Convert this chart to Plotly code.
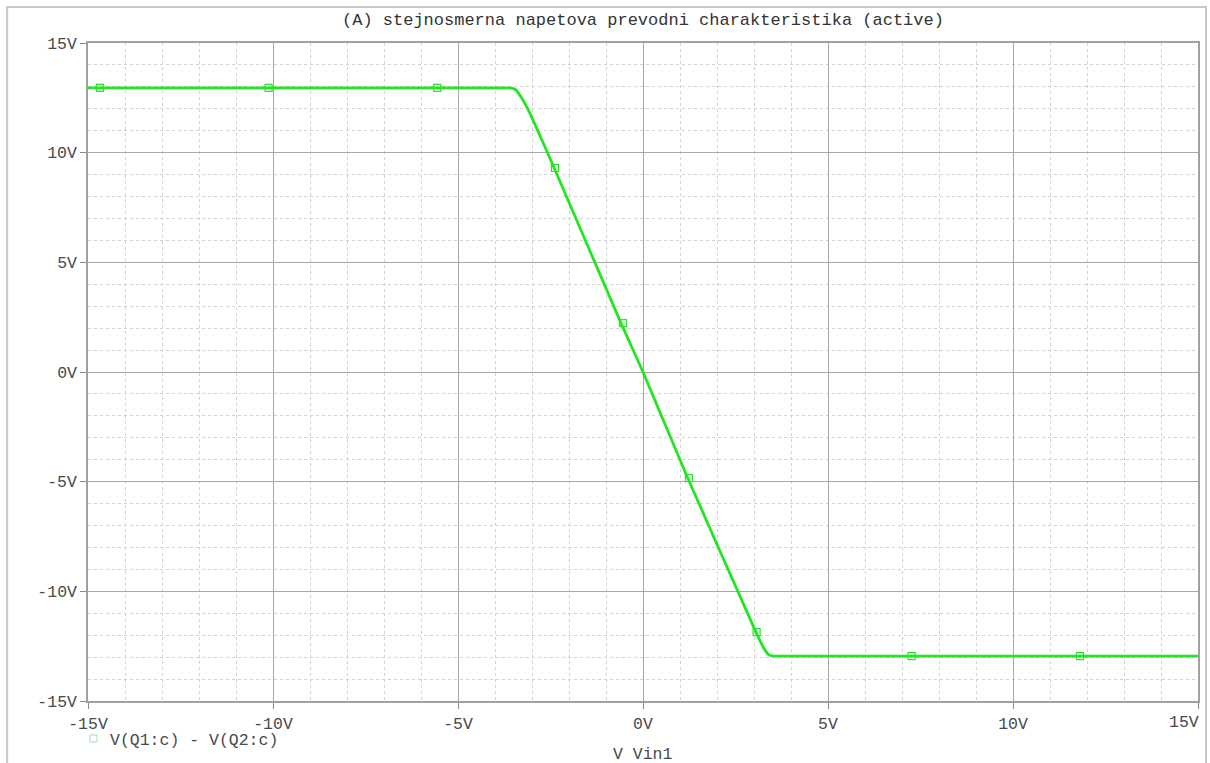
import plotly.graph_objects as go

# Curve (V Vin1 -> V(Q1:c) - V(Q2:c))
vin = [-15, -10, -5, -3.6, -3.45, -3.3, -3.1, -2.4, -0.6, 0, 1.2, 3.05, 3.25, 3.4, 3.55, 5, 10, 15]
vout = [12.95, 12.95, 12.95, 12.95, 12.88, 12.55, 11.95, 9.3, 2.25, 0, -4.8, -11.85, -12.55, -12.9, -12.95, -12.95, -12.95, -12.95]

# Marker positions along the trace
marker_vin = [-14.68, -10.12, -5.56, -2.38, -0.54, 1.24, 3.07, 7.26, 11.81]
marker_vout = [12.95, 12.95, 12.95, 9.3, 2.23, -4.84, -11.86, -12.95, -12.95]

series_name = "V(Q1:c) - V(Q2:c)"
title_text = "(A) stejnosmerna napetova prevodni charakteristika (active)"
x_title = "V Vin1"
tick_vals = [-15, -10, -5, 0, 5, 10, 15]
tick_text = ["-15V", "-10V", "-5V", "0V", "5V", "10V", "15V"]

GREEN = "#22e622"
FONT = "Liberation Mono"
TXT = "#4a4a4a"

fig = go.Figure()
fig.add_trace(go.Scatter(x=vin, y=vout, mode="lines", line=dict(color=GREEN, width=2.8, shape="spline", smoothing=0.3),
                         showlegend=False, hoverinfo="skip"))
fig.add_trace(go.Scatter(x=marker_vin, y=marker_vout, mode="markers",
                         marker=dict(symbol="square-open", size=7, color=GREEN, line=dict(width=1.2, color=GREEN)),
                         showlegend=False))

axis_common = dict(
    showgrid=True, gridcolor="#a8a8a8", gridwidth=1,
    minor=dict(dtick=1, showgrid=True, gridcolor="#d2d2d2", griddash="dot", gridwidth=1, ticklen=0),
    showline=True, linecolor="#a0a0a0", linewidth=1.5, mirror=True,
    zeroline=False, ticks="outside", ticklen=6, tickcolor="#888888", tickwidth=1,
    tickfont=dict(family=FONT, size=16.5, color=TXT),
    tickvals=tick_vals,
)

# last x tick label is drawn as right-aligned annotation (as in the reference)
x_ticktext = tick_text[:-1] + [""]
fig.update_xaxes(range=[-15, 15], ticklabelstandoff=0, ticktext=x_ticktext, **axis_common)
fig.update_yaxes(range=[-15, 15], ticktext=tick_text, **axis_common)

fig.update_layout(
    width=1210, height=763,
    margin=dict(l=88, r=10, t=43, b=62),
    plot_bgcolor="white", paper_bgcolor="white",
    showlegend=False,
    annotations=[
        dict(text=title_text, xref="paper", yref="paper", x=0.5, y=1.0, yshift=11, xanchor="center", yanchor="bottom",
             showarrow=False, font=dict(family=FONT, size=17, color="#333333")),
        dict(text=tick_text[-1], xref="x", yref="paper", x=tick_vals[-1], y=0, yshift=-21, xshift=3,
             xanchor="right", yanchor="middle", showarrow=False, font=dict(family=FONT, size=16.5, color=TXT)),
        dict(text=x_title, xref="paper", yref="paper", x=0.5, y=0, yshift=-53, xanchor="center", yanchor="middle",
             showarrow=False, font=dict(family=FONT, size=16.5, color=TXT)),
        dict(text=series_name, xref="paper", yref="paper", x=(108 - 88) / 1112, y=0, yshift=-39, xanchor="left", yanchor="middle",
             showarrow=False, font=dict(family=FONT, size=16.5, color=TXT)),
    ],
    shapes=[
        dict(type="rect", xref="paper", yref="paper", x0=-81 / 1112, x1=1120 / 1112, y0=-0.2, y1=(701 - 7) / 658,
             line=dict(color="#c8c8c8", width=2), layer="below"),
        dict(type="rect", xref="paper", yref="paper", x0=(90 - 88) / 1112, x1=(97 - 88) / 1112,
             y0=(701 - 742) / 658, y1=(701 - 735) / 658, line=dict(color="#a8e0a8", width=1)),
    ],
)

fig.write_html("out.html", config={"displayModeBar": False},
               post_script="document.body.style.margin='0';document.body.style.overflow='hidden';")
